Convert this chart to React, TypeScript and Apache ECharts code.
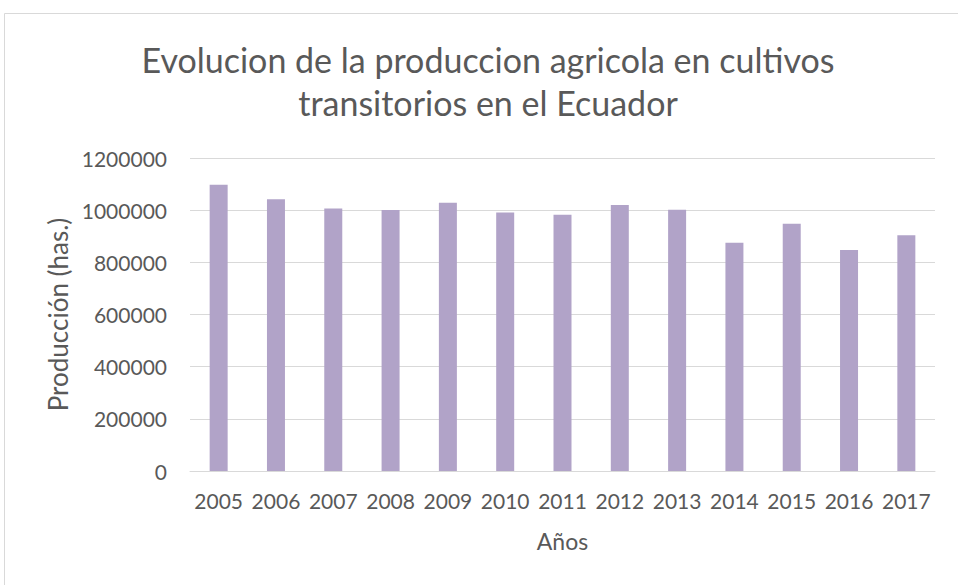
import React, { useEffect, useRef } from "react";
import * as echarts from "echarts";

const years = ["2005", "2006", "2007", "2008", "2009", "2010", "2011", "2012", "2013", "2014", "2015", "2016", "2017"];
const production = [1097000, 1042000, 1006000, 1001000, 1028000, 991000, 982000, 1020000, 1002000, 875000, 948000, 847000, 904000];
const titleText = "Evolucion de la produccion agricola en cultivos\ntransitorios en el Ecuador";
const xName = "Años";
const yName = "Producción (has.)";

export default function App() {
  const ref = useRef<HTMLDivElement>(null);
  useEffect(() => {
    if (!ref.current) return;
    const chart = echarts.init(ref.current, null, { renderer: "svg" });
    const font = "Lato, 'Open Sans', sans-serif";
    chart.setOption({
      animation: false,
      backgroundColor: "#ffffff",
      textStyle: { fontFamily: font },
      graphic: [
        {
          type: "rect",
          shape: { x: 4.5, y: 13.5, width: 1000, height: 600 },
          style: { fill: "none", stroke: "#D9D9D9", lineWidth: 1 },
          silent: true,
        },
      ],
      title: {
        text: titleText,
        left: 488,
        top: 38,
        padding: 0,
        textAlign: "center",
        textStyle: { fontFamily: font, fontSize: 34, fontWeight: "normal", color: "#595959", lineHeight: 43 },
      },
      grid: { left: 190, right: 23, top: 158, bottom: 114, containLabel: false },
      xAxis: {
        type: "category",
        data: years,
        name: xName,
        nameLocation: "middle",
        nameGap: 58,
        nameTextStyle: { fontFamily: font, fontSize: 23, color: "#595959" },
        axisLine: { show: true, lineStyle: { color: "#D9D9D9", width: 1 } },
        axisTick: { show: false },
        axisLabel: { color: "#595959", fontSize: 21, fontFamily: font, margin: 19, interval: 0 },
      },
      yAxis: {
        type: "value",
        min: 0,
        max: 1200000,
        interval: 200000,
        name: yName,
        nameLocation: "middle",
        nameGap: 113,
        nameRotate: 90,
        nameTextStyle: { fontFamily: font, fontSize: 26, color: "#595959" },
        axisLine: { show: false },
        axisTick: { show: false },
        axisLabel: {
          color: "#595959",
          fontSize: 21,
          fontFamily: font,
          margin: 23,
          formatter: (v: number) => String(v),
        },
        splitLine: { lineStyle: { color: "#D9D9D9", width: 1 } },
      },
      series: [
        {
          type: "bar",
          data: production,
          barWidth: 18,
          itemStyle: { color: "#B1A3C8" },
        },
      ],
    });
    return () => chart.dispose();
  }, []);
  return <div ref={ref} style={{ width: 958, height: 585, position: "absolute", left: 0, top: 0 }} />;
}
